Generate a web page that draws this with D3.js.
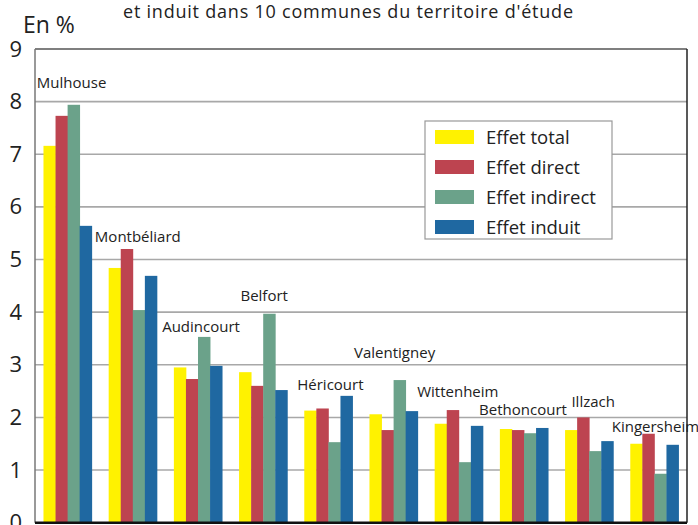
<!DOCTYPE html>
<html>
<head>
<meta charset="utf-8">
<script src="https://cdn.jsdelivr.net/npm/d3@7"></script>
<style>
  body { margin: 0; background: #fff; }
  svg { display: block; font-family: "Open Sans", "Noto Sans", sans-serif; }
</style>
</head>
<body>
<div id="chart"></div>
<script>
const communes = ["Mulhouse", "Montbéliard", "Audincourt", "Belfort", "Héricourt",
  "Valentigney", "Wittenheim", "Bethoncourt", "Illzach", "Kingersheim"];
const seriesNames = ["Effet total", "Effet direct", "Effet indirect", "Effet induit"];
const effetTotal    = [7.16, 4.84, 2.95, 2.86, 2.13, 2.06, 1.88, 1.78, 1.76, 1.50];
const effetDirect   = [7.73, 5.20, 2.73, 2.60, 2.17, 1.76, 2.14, 1.76, 2.00, 1.69];
const effetIndirect = [7.94, 4.04, 3.53, 3.97, 1.53, 2.71, 1.15, 1.70, 1.36, 0.93];
const effetInduit   = [5.64, 4.69, 2.98, 2.52, 2.41, 2.12, 1.84, 1.80, 1.55, 1.48];
const yTicks = [0, 1, 2, 3, 4, 5, 6, 7, 8, 9];

// label placement tweaks (px): horizontal shift, lift above tallest bar
const labelNudge = [[4, 17], [5, 7], [3, 5], [1, 13], [2, 6], [1, 22], [-1, 13], [-1, 13], [4, 10], [1, 2]];

const colors = ["#fff200", "#bd4450", "#6ba28a", "#1f68a1"];
const allSeries = [effetTotal, effetDirect, effetIndirect, effetInduit];

const width = 698, height = 525;
const mLeft = 35, mRight = 687, mTop = 49, mBottom = 522.7;

const svg = d3.select("#chart").append("svg")
  .attr("width", width).attr("height", height);

const x = d3.scaleBand().domain(communes).range([mLeft, mRight])
  .paddingInner(0.26).paddingOuter(0.13);
const xs = d3.scaleBand().domain(seriesNames).range([0, x.bandwidth()]);
const y = d3.scaleLinear().domain([0, 9]).range([mBottom, mTop]);

// grid
svg.append("g").selectAll("line")
  .data(yTicks.filter(d => d > 0 && d < 9))
  .enter().append("line")
    .attr("x1", mLeft).attr("x2", mRight)
    .attr("y1", d => y(d)).attr("y2", d => y(d))
    .attr("stroke", "#a8a8a8").attr("stroke-width", 1.6);

// frame
svg.append("line").attr("x1", mLeft).attr("x2", mRight).attr("y1", y(9)).attr("y2", y(9))
  .attr("stroke", "#555").attr("stroke-width", 1.5);
svg.append("line").attr("x1", mRight).attr("x2", mRight).attr("y1", y(9)).attr("y2", mBottom)
  .attr("stroke", "#222").attr("stroke-width", 1.5);
svg.append("line").attr("x1", mLeft).attr("x2", mLeft).attr("y1", y(9)).attr("y2", mBottom)
  .attr("stroke", "#777").attr("stroke-width", 1.5);

// y axis labels
const yAxis = d3.axisLeft(y).tickValues(yTicks).tickSize(0).tickPadding(13);
const ya = svg.append("g").attr("transform", `translate(${mLeft},0)`).call(yAxis);
ya.select(".domain").remove();
ya.selectAll("text").attr("font-size", 22).attr("fill", "#222")
  .attr("font-family", "'Open Sans', sans-serif");

// bars
const groups = svg.append("g").selectAll("g")
  .data(communes).enter().append("g")
  .attr("transform", d => `translate(${x(d)},0)`);

groups.selectAll("rect")
  .data((d, i) => allSeries.map((s, k) => ({ key: seriesNames[k], v: s[i], k })))
  .enter().append("rect")
    .attr("x", d => xs(d.key))
    .attr("width", xs.bandwidth() + 0.4)
    .attr("y", d => y(d.v))
    .attr("height", d => mBottom - y(d.v))
    .attr("fill", d => colors[d.k]);

// commune labels
groups.append("text")
  .attr("x", (d, i) => x.bandwidth() / 2 + labelNudge[i][0])
  .attr("y", (d, i) => y(d3.max(allSeries, s => s[i])) - labelNudge[i][1])
  .attr("text-anchor", "middle")
  .attr("font-size", 15)
  .attr("fill", "#222")
  .text(d => d);

// bottom axis
svg.append("line").attr("x1", mLeft).attr("x2", mRight).attr("y1", mBottom).attr("y2", mBottom)
  .attr("stroke", "#111").attr("stroke-width", 2.4);

// legend
const lg = svg.append("g").attr("transform", "translate(425,121)");
lg.append("rect").attr("width", 187).attr("height", 118)
  .attr("fill", "#fff").attr("stroke", "#999").attr("stroke-width", 1.2);
const li = lg.selectAll("g.item").data(seriesNames).enter().append("g")
  .attr("class", "item")
  .attr("transform", (d, i) => `translate(10,${9 + i * 30})`);
li.append("rect").attr("width", 39).attr("height", 14).attr("fill", (d, i) => colors[i]);
li.append("text").attr("x", 51).attr("y", 14).attr("font-size", 18.5)
  .attr("fill", "#222").text(d => d);

// titles
svg.append("text").attr("x", 23).attr("y", 33).attr("font-size", 23)
  .attr("fill", "#222").text("En %");
svg.append("text").attr("x", 123).attr("y", 18).attr("font-size", 18)
  .attr("textLength", 450).attr("lengthAdjust", "spacing")
  .attr("fill", "#222").text("et induit dans 10 communes du territoire d'étude");
</script>
</body>
</html>
